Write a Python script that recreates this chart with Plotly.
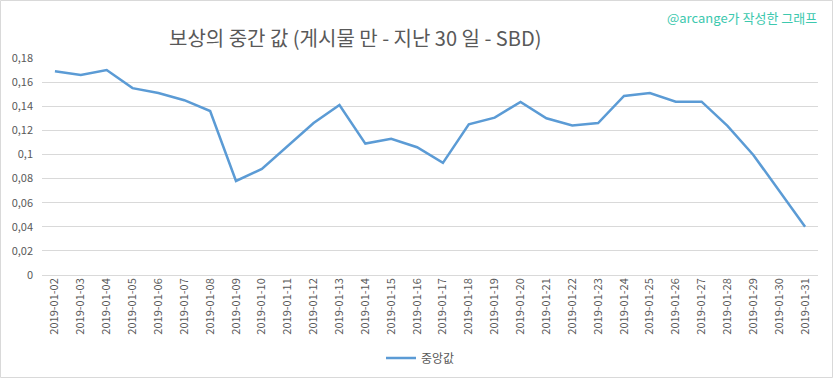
import plotly.graph_objects as go

dates = ["2019-01-%02d" % d for d in range(2, 32)]
median_values = [0.169, 0.166, 0.170, 0.155, 0.151, 0.145, 0.136, 0.078, 0.088, 0.107,
                 0.126, 0.141, 0.109, 0.113, 0.106, 0.093, 0.125, 0.1305, 0.1436, 0.130,
                 0.124, 0.126, 0.1485, 0.151, 0.1438, 0.1438, 0.1237, 0.0996, 0.070, 0.040]
series_name = "중앙값"
title_text = "보상의 중간 값 (게시물 만 - 지난 30 일 - SBD)"
watermark = "@arcange가 작성한 그래프"

W, H = 833, 378
L, R, T, B = 42, 15, 58, 103
pw, ph = W - L - R, H - T - B

def px(x):
    return (x - L) / pw

def py(y):
    return (H - B - y) / ph

fig = go.Figure()
fig.add_trace(go.Scatter(
    x=dates, y=median_values, mode="lines", name=series_name,
    line=dict(color="#5b9bd5", width=2.5),
))

font_family = "Noto Sans CJK KR, Noto Sans, sans-serif"
fig.update_layout(
    width=W, height=H,
    margin=dict(l=L, r=R, t=T, b=B, autoexpand=False),
    paper_bgcolor="white", plot_bgcolor="white",
    separators=", ",
    font=dict(family=font_family, color="#595959", size=11),
    showlegend=True,
    legend=dict(orientation="h", xref="container", yref="container",
                x=381 / W, y=1 - 358 / H, xanchor="left", yanchor="middle",
                font=dict(size=12, color="#595959"), bgcolor="rgba(0,0,0,0)"),
    xaxis=dict(type="category", range=[-0.5, len(dates) - 0.5], tickangle=-90,
               showgrid=False, showline=False, ticks="", zeroline=False, automargin=False,
               tickfont=dict(size=11, color="#595959")),
    yaxis=dict(range=[0, 0.18], dtick=0.02, showgrid=True, gridcolor="#d9d9d9",
               gridwidth=1, zeroline=True, zerolinecolor="#d9d9d9", zerolinewidth=1,
               showline=False, ticks="", ticklabelstandoff=8, automargin=False,
               tickfont=dict(size=11, color="#595959")),
    annotations=[
        dict(text=title_text, xref="paper", yref="paper", x=px(355), y=py(38),
             xanchor="center", yanchor="middle", showarrow=False,
             font=dict(size=20, color="#595959", family=font_family)),
        dict(text=watermark, xref="paper", yref="paper", x=px(819), y=py(18),
             xanchor="right", yanchor="middle", showarrow=False,
             font=dict(size=13, color="#3cc8ae", family=font_family)),
    ],
    shapes=[
        dict(type="rect", xref="paper", yref="paper", x0=px(0.5), x1=px(832.5),
             y0=py(377.5), y1=py(0.5), line=dict(color="#d9d9d9", width=1), layer="below"),
    ],
)

fig.write_html("out.html", config={"displayModeBar": False},
               post_script="document.body.style.margin='0';document.body.style.overflow='hidden';")
